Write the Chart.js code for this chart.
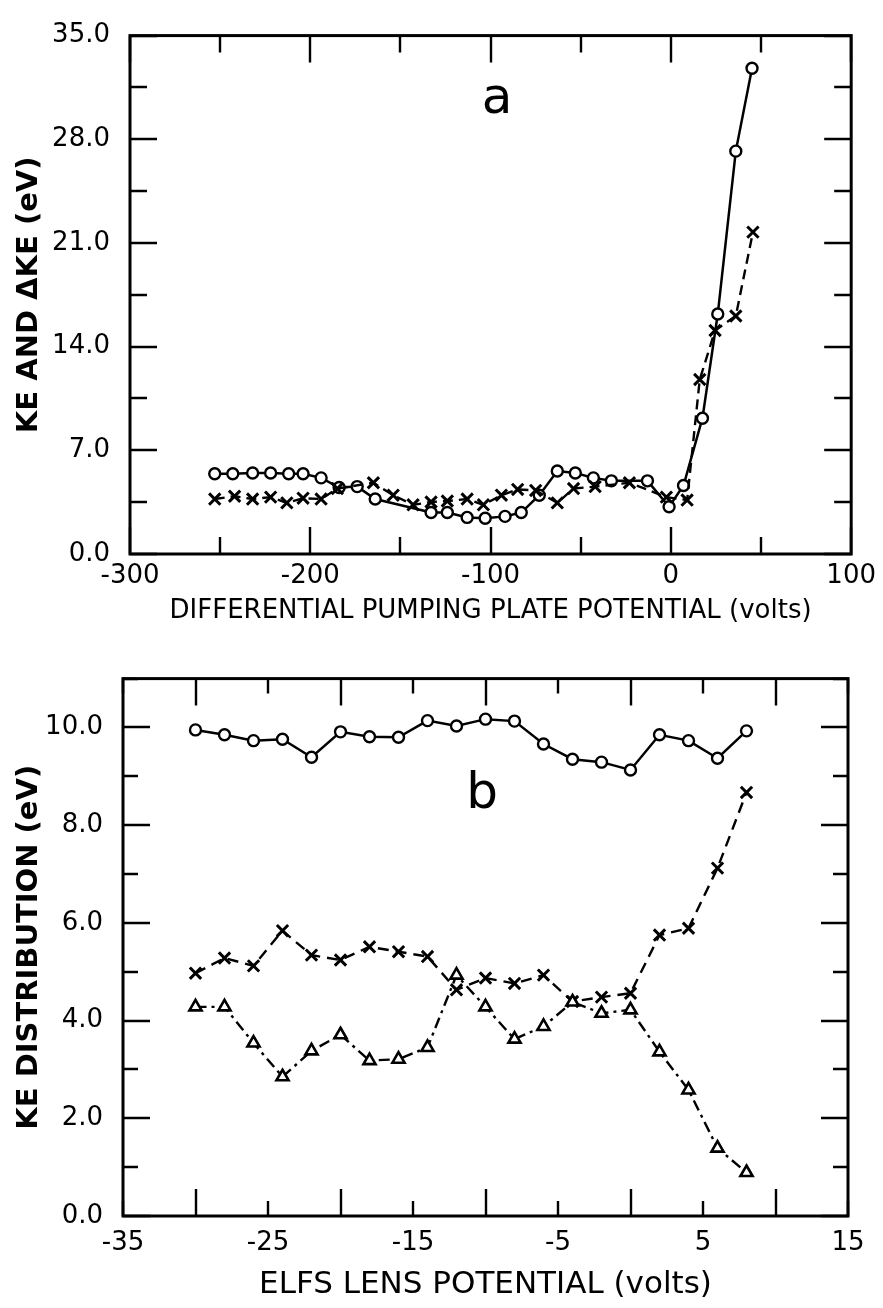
<!DOCTYPE html>
<html><head><meta charset="utf-8">
<script src="https://cdn.jsdelivr.net/npm/chart.js@4"></script>
<style>
html,body{margin:0;padding:0;background:#fff;}
#wrap{position:relative;width:883px;height:1308px;background:#fff;}
canvas{position:absolute;left:0;}
</style></head><body>
<div id="wrap">
<canvas id="ca" width="883" height="640" style="top:0px"></canvas>
<canvas id="cb" width="883" height="668" style="top:640px"></canvas>
</div>
<script>
// ---------- Panel a data ----------
const aCircV  = [-253,-243,-232,-222,-212,-204,-194,-184,-174,-164,-133,-124,-113,-103,-92,-83,-73,-63,-53,-43,-33,-13,-1,7,17.5,26,36,45];
const aCircKE = [5.42,5.42,5.47,5.47,5.42,5.42,5.14,4.49,4.55,3.71,2.80,2.80,2.47,2.41,2.54,2.80,3.97,5.60,5.47,5.14,4.94,4.94,3.19,4.62,9.17,16.2,27.2,32.8];
const aCrossV  = [-253,-242,-232,-222,-213,-204,-194,-185,-165,-154,-143,-133,-124,-113,-104,-94,-85,-75,-63,-54,-42,-23,-2.5,9,16,24.5,36,45.5];
const aCrossKE = [3.71,3.90,3.71,3.84,3.45,3.77,3.71,4.42,4.81,3.97,3.32,3.51,3.58,3.71,3.32,3.97,4.36,4.29,3.45,4.42,4.55,4.81,3.84,3.64,11.78,15.09,16.07,21.73];
const aXTicks = [-300,-200,-100,0,100];
const aYTicks = [0,7,14,21,28,35];

// ---------- Panel b data ----------
const bV     = [-30,-28,-26,-24,-22,-20,-18,-16,-14,-12,-10,-8,-6,-4,-2,0,2,4,6,8];
const bCirc  = [9.95,9.85,9.73,9.76,9.39,9.91,9.81,9.80,10.14,10.03,10.17,10.13,9.66,9.35,9.29,9.13,9.85,9.73,9.37,9.93];
const bCross = [4.97,5.28,5.12,5.84,5.34,5.24,5.51,5.41,5.31,4.63,4.87,4.76,4.93,4.39,4.48,4.56,5.75,5.89,7.12,8.67];
const bTri   = [4.28,4.28,3.54,2.85,3.38,3.71,3.18,3.21,3.45,4.93,4.28,3.62,3.88,4.38,4.15,4.22,3.36,2.58,1.39,0.89];
const bXTicks = [-35,-25,-15,-5,5,15];
const bYTicks = [0,2,4,6,8,10];

const FONT = "'DejaVu Sans', sans-serif";
const pts = (xs, ys) => xs.map((x, i) => ({x: x, y: ys[i]}));

const framePlugin = {
  id: 'frameTicks',
  afterDraw(chart, args, o) {
    const {ctx, chartArea: a, scales} = chart;
    const sx = scales.x, sy = scales.y;
    ctx.save();
    ctx.strokeStyle = '#000';
    ctx.lineCap = 'butt';
    ctx.lineWidth = 2.4;
    const isMajor = (v, m) => Math.abs(v / m - Math.round(v / m)) < 1e-6;
    for (let v = sx.min; v <= sx.max + 1e-9; v += o.xStep) {
      const px = Math.round(sx.getPixelForValue(v));
      const L = isMajor(v, o.xMajor) ? o.long : o.short;
      ctx.beginPath();
      ctx.moveTo(px, a.bottom); ctx.lineTo(px, a.bottom - L);
      ctx.moveTo(px, a.top); ctx.lineTo(px, a.top + L);
      ctx.stroke();
    }
    for (let v = sy.min; v <= sy.max + 1e-9; v += o.yStep) {
      const py = Math.round(sy.getPixelForValue(v));
      const L = isMajor(v, o.yMajor) ? o.long : o.short;
      ctx.beginPath();
      ctx.moveTo(a.left, py); ctx.lineTo(a.left + L, py);
      ctx.moveTo(a.right, py); ctx.lineTo(a.right - L, py);
      ctx.stroke();
    }
    ctx.lineWidth = 3;
    ctx.strokeRect(a.left, a.top, a.right - a.left, a.bottom - a.top);
    ctx.fillStyle = '#000';
    ctx.font = o.letterFont;
    ctx.textAlign = 'center';
    ctx.textBaseline = 'alphabetic';
    ctx.fillText(o.letter, o.letterX, o.letterY);
    ctx.restore();
  }
};

function makeScales(cfg) {
  return {
    x: {
      type: 'linear', min: cfg.xmin, max: cfg.xmax,
      afterBuildTicks: s => { s.ticks = cfg.xticks.map(v => ({value: v})); },
      afterFit: s => { s.height = cfg.xh; },
      grid: {display: false, drawTicks: false},
      border: {display: false},
      ticks: {color: '#000', font: {family: FONT, size: cfg.tickSize}, padding: cfg.xpad,
              maxRotation: 0, autoSkip: false, callback: v => String(v)},
      title: {display: true, text: cfg.xtitle, color: '#000',
              font: {family: FONT, size: cfg.xtitleSize}, padding: {top: 0, bottom: cfg.xtitlePad}}
    },
    y: {
      type: 'linear', min: cfg.ymin, max: cfg.ymax,
      afterBuildTicks: s => { s.ticks = cfg.yticks.map(v => ({value: v})); },
      afterFit: s => { s.width = cfg.yw; },
      grid: {display: false, drawTicks: false},
      border: {display: false},
      ticks: {color: '#000', font: {family: FONT, size: cfg.tickSize}, padding: cfg.ypad,
              autoSkip: false, callback: v => Number(v).toFixed(1)},
      title: {display: true, text: cfg.ytitle, color: '#000',
              font: {family: FONT, size: cfg.ytitleSize, weight: 'bold'}, padding: {top: cfg.ytitlePad, bottom: 0}}
    }
  };
}

const common = {
  responsive: false, animation: false, devicePixelRatio: 1,
  plugins: {legend: {display: false}, tooltip: {enabled: false}}
};

const circleStyle = {pointStyle: 'circle', pointRadius: 5.5, pointBorderWidth: 2.4, pointBorderColor: '#000', pointBackgroundColor: '#fff'};
const crossStyle = {pointStyle: 'crossRot', pointRadius: 8, pointBorderWidth: 3, pointBorderColor: '#000', pointBackgroundColor: '#000'};
const triStyle = {pointStyle: 'triangle', pointRadius: 7, pointBorderWidth: 2.6, pointBorderColor: '#000', pointBackgroundColor: '#fff'};

new Chart(document.getElementById('ca'), {
  type: 'scatter',
  data: {datasets: [
    Object.assign({data: pts(aCrossV, aCrossKE), showLine: true, borderColor: '#000', borderWidth: 2.4, borderDash: [10, 6]}, crossStyle),
    Object.assign({data: pts(aCircV, aCircKE), showLine: true, borderColor: '#000', borderWidth: 2.5}, circleStyle)
  ]},
  options: Object.assign({}, common, {
    layout: {padding: {top: 16, right: 31, left: 0, bottom: 0}},
    scales: makeScales({xmin: -300, xmax: 100, ymin: 0, ymax: 35, xticks: aXTicks, yticks: aYTicks,
      xh: 86, yw: 130, tickSize: 26, xpad: 7, ypad: 20,
      xtitle: 'DIFFERENTIAL PUMPING PLATE POTENTIAL (volts)', xtitleSize: 26, xtitlePad: 13,
      ytitle: 'KE AND \u0394KE (eV)', ytitleSize: 29, ytitlePad: 12}),
    plugins: Object.assign({}, common.plugins, {frameTicks: {xStep: 50, xMajor: 100, yStep: 3.5, yMajor: 7,
      long: 27, short: 17, letter: 'a', letterX: 497, letterY: 113, letterFont: "50px " + FONT}})
  }),
  plugins: [framePlugin]
});

new Chart(document.getElementById('cb'), {
  type: 'scatter',
  data: {datasets: [
    Object.assign({data: pts(bV, bTri), showLine: true, borderColor: '#000', borderWidth: 2.4, borderDash: [11, 5, 3, 5]}, triStyle),
    Object.assign({data: pts(bV, bCross), showLine: true, borderColor: '#000', borderWidth: 2.4, borderDash: [11, 7]}, crossStyle),
    Object.assign({data: pts(bV, bCirc), showLine: true, borderColor: '#000', borderWidth: 2.5}, circleStyle)
  ]},
  options: Object.assign({}, common, {
    layout: {padding: {top: 38.6, right: 35, left: 0, bottom: 0}},
    scales: makeScales({xmin: -35, xmax: 15, ymin: 0, ymax: 11, xticks: bXTicks, yticks: bYTicks,
      xh: 92, yw: 123, tickSize: 26, xpad: 12, ypad: 20,
      xtitle: 'ELFS LENS POTENTIAL (volts)', xtitleSize: 31, xtitlePad: 4,
      ytitle: 'KE DISTRIBUTION (eV)', ytitleSize: 29, ytitlePad: 12}),
    plugins: Object.assign({}, common.plugins, {frameTicks: {xStep: 5, xMajor: 10, yStep: 1, yMajor: 2,
      long: 27, short: 15, letter: 'b', letterX: 482, letterY: 168, letterFont: "50px " + FONT}})
  }),
  plugins: [framePlugin]
});
</script>
</body></html>
